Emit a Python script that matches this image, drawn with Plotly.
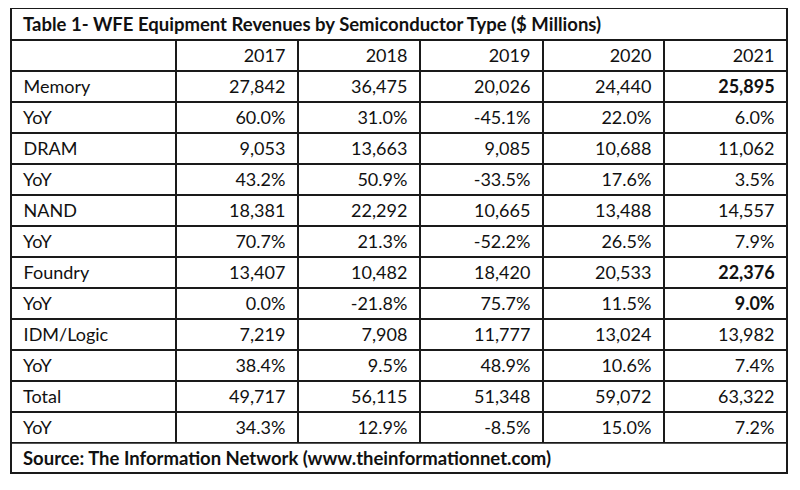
import plotly.graph_objects as go

title_text = "Table 1- WFE Equipment Revenues by Semiconductor Type ($ Millions)"
source_text = "Source: The Information Network (www.theinformationnet.com)"
years = ["2017", "2018", "2019", "2020", "2021"]
row_labels = ["Memory", "YoY", "DRAM", "YoY", "NAND", "YoY",
              "Foundry", "YoY", "IDM/Logic", "YoY", "Total", "YoY"]
v2017 = ["27,842", "60.0%", "9,053", "43.2%", "18,381", "70.7%",
         "13,407", "0.0%", "7,219", "38.4%", "49,717", "34.3%"]
v2018 = ["36,475", "31.0%", "13,663", "50.9%", "22,292", "21.3%",
         "10,482", "-21.8%", "7,908", "9.5%", "56,115", "12.9%"]
v2019 = ["20,026", "-45.1%", "9,085", "-33.5%", "10,665", "-52.2%",
         "18,420", "75.7%", "11,777", "48.9%", "51,348", "-8.5%"]
v2020 = ["24,440", "22.0%", "10,688", "17.6%", "13,488", "26.5%",
         "20,533", "11.5%", "13,024", "10.6%", "59,072", "15.0%"]
v2021 = ["25,895", "6.0%", "11,062", "3.5%", "14,557", "7.9%",
         "22,376", "9.0%", "13,982", "7.4%", "63,322", "7.2%"]
bold_2021 = [True, False, False, False, False, False,
             True, True, False, False, False, False]

# page body has an 8px margin; figure coordinates are offset accordingly
OFF = 8
W, H = 800 - 2 * OFF, 490 - 2 * OFF
FONT = "Lato"
FS = 18
FS_NOTE = 18.5
LINE = "#1a1a1a"
x0, x1 = 11 - OFF, 787 - OFF
y_title_top, y_hdr_top, y_src_top, y_bot = 8 - OFF, 40 - OFF, 443 - OFF, 473 - OFF
colw = [165, 122, 122, 123, 121, 123]
aligns = ["left"] + ["right"] * 5
ROWH = 31
NB = "\u00a0"

def px(x):
    return x / W

def py(y):
    return 1 - y / H

def rpad(col):
    return [v + NB if v else "" for v in col]

def lpad(col):
    return [NB + v if v else "" for v in col]

n = len(row_labels)
plain_2021 = ["" if b else v for v, b in zip(v2021, bold_2021)]
bold_only_2021 = [v if b else "" for v, b in zip(v2021, bold_2021)]
blank = [""] * n
domain = dict(x=[px(x0), px(x1)], y=[py(y_src_top), py(y_hdr_top)])

fig = go.Figure()
fig.add_trace(go.Table(
    domain=domain,
    columnwidth=colw,
    header=dict(values=[""] + rpad(years), align=aligns, height=ROWH,
                font=dict(family=FONT, size=FS, color="#111"),
                fill_color="white", line=dict(color=LINE, width=1.5)),
    cells=dict(values=[lpad(row_labels), rpad(v2017), rpad(v2018), rpad(v2019),
                       rpad(v2020), rpad(plain_2021)],
               align=aligns, height=ROWH,
               font=dict(family=FONT, size=FS, color="#111"),
               fill_color="white", line=dict(color=LINE, width=1.5)),
))
# overlay table carrying the bold cells
fig.add_trace(go.Table(
    domain=domain,
    columnwidth=colw,
    header=dict(values=[""] * 6, align=aligns, height=ROWH,
                font=dict(family=FONT, size=FS, color="#111"),
                fill_color="rgba(0,0,0,0)", line=dict(color="rgba(0,0,0,0)", width=0)),
    cells=dict(values=[blank, blank, blank, blank, blank, rpad(bold_only_2021)],
               align=aligns, height=ROWH,
               font=dict(family=FONT, size=FS, color="#111", weight="bold"),
               fill_color="rgba(0,0,0,0)", line=dict(color="rgba(0,0,0,0)", width=0)),
))

fig.add_shape(type="rect", xref="paper", yref="paper",
              x0=px(x0), x1=px(x1), y0=py(y_bot), y1=py(y_title_top),
              line=dict(color=LINE, width=2))
for yy in (y_hdr_top, y_src_top):
    fig.add_shape(type="line", xref="paper", yref="paper",
                  x0=px(x0), x1=px(x1), y0=py(yy), y1=py(yy),
                  line=dict(color=LINE, width=1.5))

fig.add_annotation(text="<b>" + title_text + "</b>", xref="paper", yref="paper",
                   x=px(21 - OFF), y=py((y_title_top + y_hdr_top) / 2),
                   xanchor="left", yanchor="middle", showarrow=False,
                   font=dict(family=FONT, size=FS_NOTE, color="#111"))
fig.add_annotation(text="<b>" + source_text + "</b>", xref="paper", yref="paper",
                   x=px(21 - OFF), y=py((y_src_top + y_bot) / 2),
                   xanchor="left", yanchor="middle", showarrow=False,
                   font=dict(family=FONT, size=FS_NOTE, color="#111"))

fig.update_layout(width=W, height=H, margin=dict(l=0, r=0, t=0, b=0),
                  paper_bgcolor="white", plot_bgcolor="white")
fig.write_html("out.html")
